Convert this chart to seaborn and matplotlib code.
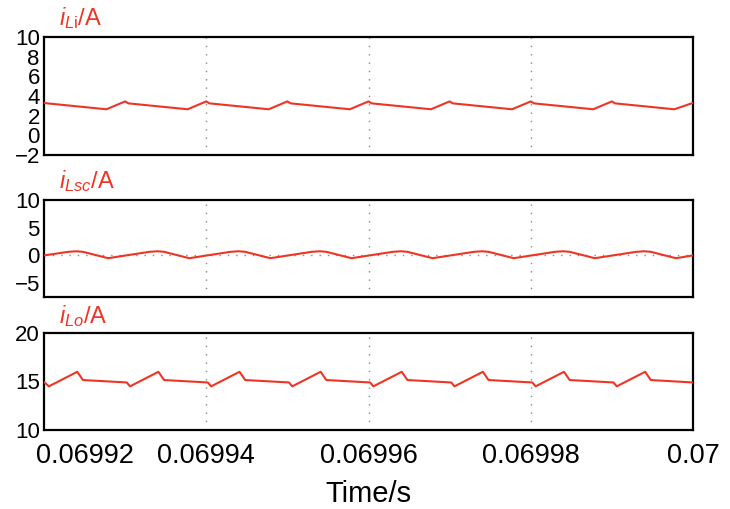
import numpy as np
import seaborn as sns
import matplotlib
matplotlib.use('Agg')
import matplotlib.pyplot as plt
import matplotlib.transforms as mtransforms

# time points in microseconds after t0 = 0.06992 s (key points)
t0 = 0.06992
t_li_us = [0, 0.4, 7.7, 10, 10.4, 17.7, 20, 20.4, 27.7, 30, 30.4, 37.7,
           40, 40.4, 47.7, 50, 50.4, 57.7, 60, 60.4, 67.7, 70, 70.4, 77.7, 80]
i_li = [3.3, 3.25, 2.65, 3.45, 3.25, 2.65, 3.45, 3.25, 2.65, 3.45, 3.25, 2.65,
        3.45, 3.25, 2.65, 3.45, 3.25, 2.65, 3.45, 3.25, 2.65, 3.45, 3.25, 2.65, 3.3]

t_lsc_us = [0, 3.0, 4.0, 4.8, 7.9, 13.0, 14.0, 14.8, 17.9, 23.0, 24.0, 24.8, 27.9,
            33.0, 34.0, 34.8, 37.9, 43.0, 44.0, 44.8, 47.9, 53.0, 54.0, 54.8, 57.9,
            63.0, 64.0, 64.8, 67.9, 73.0, 74.0, 74.8, 77.9, 80]
i_lsc = [0.0, 0.65, 0.75, 0.65, -0.5, 0.65, 0.75, 0.65, -0.5, 0.65, 0.75, 0.65, -0.5,
         0.65, 0.75, 0.65, -0.5, 0.65, 0.75, 0.65, -0.5, 0.65, 0.75, 0.65, -0.5,
         0.65, 0.75, 0.65, -0.5, 0.65, 0.75, 0.65, -0.5, 0.0]

t_lo_us = [0, 0.6, 4.1, 4.8, 10.2, 10.6, 14.1, 14.8, 20.2, 20.6, 24.1, 24.8,
           30.2, 30.6, 34.1, 34.8, 40.2, 40.6, 44.1, 44.8, 50.2, 50.6, 54.1, 54.8,
           60.2, 60.6, 64.1, 64.8, 70.2, 70.6, 74.1, 74.8, 80]
i_lo = [14.95, 14.5, 16.0, 15.15, 14.9, 14.5, 16.0, 15.15, 14.9, 14.5, 16.0, 15.15,
        14.9, 14.5, 16.0, 15.15, 14.9, 14.5, 16.0, 15.15, 14.9, 14.5, 16.0, 15.15,
        14.9, 14.5, 16.0, 15.15, 14.9, 14.5, 16.0, 15.15, 14.9]

x_ticks = [0.06992, 0.06994, 0.06996, 0.06998, 0.07]
x_ticklabels = ['0.06992', '0.06994', '0.06996', '0.06998', '0.07']
grid_x = [0.06994, 0.06996, 0.06998]

titles = [r'$i_{L\mathrm{i}}$/A', r'$i_{Lsc}$/A', r'$i_{Lo}$/A']
ylims = [(-2, 10), (-7.5, 10), (10, 20)]
yticks = [[-2, 0, 2, 4, 6, 8, 10], [-5, 0, 5, 10], [10, 15, 20]]

sns.set_style('white')
plt.rcParams['font.family'] = ['Liberation Sans', 'DejaVu Sans']
plt.rcParams['mathtext.fontset'] = 'custom'
plt.rcParams['mathtext.rm'] = 'Liberation Sans'
plt.rcParams['mathtext.it'] = 'Liberation Sans:italic'
plt.rcParams['text.color'] = 'black'
plt.rcParams['xtick.color'] = 'black'
plt.rcParams['ytick.color'] = 'black'
plt.rcParams['axes.labelcolor'] = 'black'

red = '#ee3524'
fig = plt.figure(figsize=(7.3, 5.09), dpi=100)
# axes boxes in figure fraction [left, bottom, width, height]
boxes = [[0.0603, 0.6955, 0.889, 0.2318],
         [0.0603, 0.4165, 0.889, 0.1906],
         [0.0603, 0.1552, 0.889, 0.1906]]
title_y = [1.10, 1.12, 1.10]

series = [(t_li_us, i_li), (t_lsc_us, i_lsc), (t_lo_us, i_lo)]
for k, (tus, vals) in enumerate(series):
    ax = fig.add_axes(boxes[k])
    t = t0 + np.array(tus) * 1e-6
    sns.lineplot(x=t, y=vals, ax=ax, color=red, linewidth=1.5, zorder=3)
    for gx in grid_x:
        ax.axvline(gx, color='#888888', linestyle=(0, (1, 5)), linewidth=1.0, zorder=1)
    if k == 1:
        ax.axhline(0, color='#888888', linestyle=(0, (1, 5)), linewidth=1.0, zorder=1)
    ax.set_xlim(0.06992, 0.07)
    ax.set_ylim(*ylims[k])
    ax.set_yticks(yticks[k])
    ax.set_xticks(x_ticks)
    ax.tick_params(axis='both', length=0)
    ax.tick_params(axis='y', labelsize=16, pad=3)
    for s in ax.spines.values():
        s.set_linewidth(1.6)
        s.set_color('black')
    ax.text(0.023, title_y[k], titles[k], transform=ax.transAxes, color=red,
            fontsize=17, ha='left', va='baseline')
    if k < 2:
        ax.set_xticklabels([])
    else:
        ax.set_xticklabels(x_ticklabels)
        ax.tick_params(axis='x', labelsize=19.5, pad=9)
        first = ax.get_xticklabels()[0]
        first.set_horizontalalignment('left')
        first.set_transform(first.get_transform() +
                            mtransforms.ScaledTranslation(-8 / 100, 0, fig.dpi_scale_trans))
        ax.set_xlabel('Time/s', fontsize=21, labelpad=8)

fig.savefig('out.png', dpi=100)
